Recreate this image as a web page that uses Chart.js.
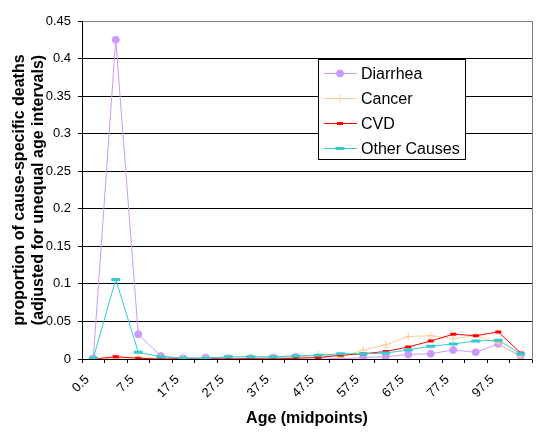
<!DOCTYPE html>
<html>
<head>
<meta charset="utf-8">
<script src="https://cdn.jsdelivr.net/npm/chart.js@4/dist/chart.umd.min.js"></script>
<style>
  html, body { margin: 0; padding: 0; background: #fff; }
  canvas { display: block; }
</style>
</head>
<body>
<canvas id="cause-chart" width="554" height="445"></canvas>
<script>
// age midpoints (only every other one gets a label on the axis)
const ageMidpoints = ['0.5', '2.5', '7.5', '12.5', '17.5', '22.5', '27.5', '32.5', '37.5', '42.5',
                      '47.5', '52.5', '57.5', '62.5', '67.5', '72.5', '77.5', '87.5', '97.5', '102.5'];
const yTickLabels = ['0', '0.05', '0.1', '0.15', '0.2', '0.25', '0.3', '0.35', '0.4', '0.45'];

const diarrhea = [0.001, 0.425, 0.033, 0.004, 0.001, 0.002, 0.001, 0.001, 0.002, 0.003,
                  0.002, 0, 0.002, 0.003, 0.006, 0.007, 0.012, 0.009, 0.020, 0.004];
const cancer   = [0, 0.001, 0.002, 0.001, 0.001, 0.001, 0.001, 0.001, 0.001, 0.002,
                  0.006, 0.002, 0.012, 0.019, 0.030, 0.031, 0.027, 0.031, 0.021, 0.002];
const cvd      = [0, 0.003, 0.001, 0, 0.0005, 0.0005, 0, 0.0005, 0, 0.001,
                  0.002, 0.005, 0.007, 0.010, 0.016, 0.024, 0.033, 0.031, 0.036, 0.008];
const otherCauses = [0.001, 0.106, 0.009, 0.003, 0.001, 0.001, 0.003, 0.003, 0.003, 0.004,
                     0.005, 0.007, 0.007, 0.008, 0.012, 0.017, 0.020, 0.024, 0.025, 0.007];

Chart.defaults.font.family = 'Arial, "Liberation Sans", sans-serif';
Chart.defaults.color = '#000';

// legend box sitting inside the plot, like the excel one
const boxLegend = {
  id: 'boxLegend',
  afterDraw(chart) {
    const ctx = chart.ctx;
    const ca = chart.chartArea;
    const left = ca.left + 236, top = ca.top + 38, w = 147, h = 100;
    ctx.save();
    ctx.fillStyle = '#fff';
    ctx.fillRect(left, top, w, h);
    ctx.strokeStyle = '#000';
    ctx.lineWidth = 1;
    ctx.strokeRect(left + 0.5, top + 0.5, w, h);
    ctx.font = '16px Arial, "Liberation Sans", sans-serif';
    ctx.textBaseline = 'middle';
    ctx.textAlign = 'left';
    chart.data.datasets.forEach((ds, i) => {
      const y = Math.round(top + 13.5 + i * 25) + 0.5;
      ctx.strokeStyle = ds.borderColor;
      ctx.fillStyle = ds.borderColor;
      ctx.lineWidth = 1;
      ctx.beginPath();
      ctx.moveTo(left + 6, y);
      ctx.lineTo(left + 39, y);
      ctx.stroke();
      ctx.lineWidth = ds.pointBorderWidth;
      Chart.helpers.drawPoint(ctx, {
        pointStyle: ds.pointStyle,
        radius: ds.pointRadius,
        borderWidth: ds.pointBorderWidth,
        rotation: 0
      }, left + 22, y);
      ctx.fillStyle = '#000';
      ctx.fillText(ds.label, left + 43, y + 1);
    });
    ctx.restore();
  }
};

function series(label, data, color, style, radius, pbw, order) {
  return {
    label: label,
    data: data,
    borderColor: color,
    backgroundColor: color,
    borderWidth: 1,
    pointStyle: style,
    pointRadius: radius,
    pointHoverRadius: radius,
    pointBorderWidth: pbw,
    pointBackgroundColor: color,
    pointBorderColor: color,
    tension: 0,
    fill: false,
    order: order
  };
}

new Chart(document.getElementById('cause-chart'), {
  type: 'line',
  data: {
    labels: ageMidpoints,
    datasets: [
      series('Diarrhea', diarrhea, '#CC99FF', 'circle', 3.5, 1, 4),
      series('Cancer', cancer, '#FFCC99', 'cross', 4, 1, 3),
      series('CVD', cvd, '#FF0000', 'line', 3, 3, 2),
      series('Other Causes', otherCauses, '#33CCCC', 'line', 4.5, 3, 1)
    ]
  },
  plugins: [boxLegend],
  options: {
    responsive: false,
    animation: false,
    layout: { padding: { top: 21, left: 0, right: 0, bottom: 0 } },
    plugins: {
      legend: { display: false },
      tooltip: { enabled: false }
    },
    scales: {
      x: {
        type: 'category',
        offset: true,
        grid: { display: true, drawOnChartArea: false, offset: true, tickLength: 4, tickColor: '#000' },
        border: { color: '#000' },
        ticks: {
          autoSkip: false,
          minRotation: 45,
          maxRotation: 45,
          padding: 9,
          labelOffset: -6,
          font: { size: 13 },
          callback: function (value, index) {
            return index % 2 === 0 ? this.getLabelForValue(value) : '';
          }
        },
        title: {
          display: true,
          text: 'Age (midpoints)',
          font: { size: 16, weight: 'bold' },
          padding: { top: 0, bottom: 17 }
        },
        afterFit(scale) { scale.height = 86; }
      },
      y: {
        min: 0,
        max: 0.45,
        ticks: {
          stepSize: 0.05,
          padding: 7,
          font: { size: 13 },
          callback: (value, index) => yTickLabels[index]
        },
        grid: {
          color: (c) => (c.tick && c.tick.value > 0.449 ? '#808080' : '#000'),
          tickColor: '#000',
          tickLength: 4
        },
        border: { color: '#000' },
        title: {
          display: true,
          text: ['proportion of cause-specific deaths', '(adjusted for unequal age intervals)'],
          font: { size: 16, weight: 'bold' },
          padding: { top: 10, bottom: 0 }
        },
        afterFit(scale) { scale.width = 82; }
      },
      yRight: {
        position: 'right',
        min: 0,
        max: 0.45,
        ticks: { display: false },
        grid: { drawOnChartArea: false, drawTicks: false },
        border: { color: '#808080' },
        afterFit(scale) { scale.width = 22; }
      }
    }
  }
});
</script>
</body>
</html>
